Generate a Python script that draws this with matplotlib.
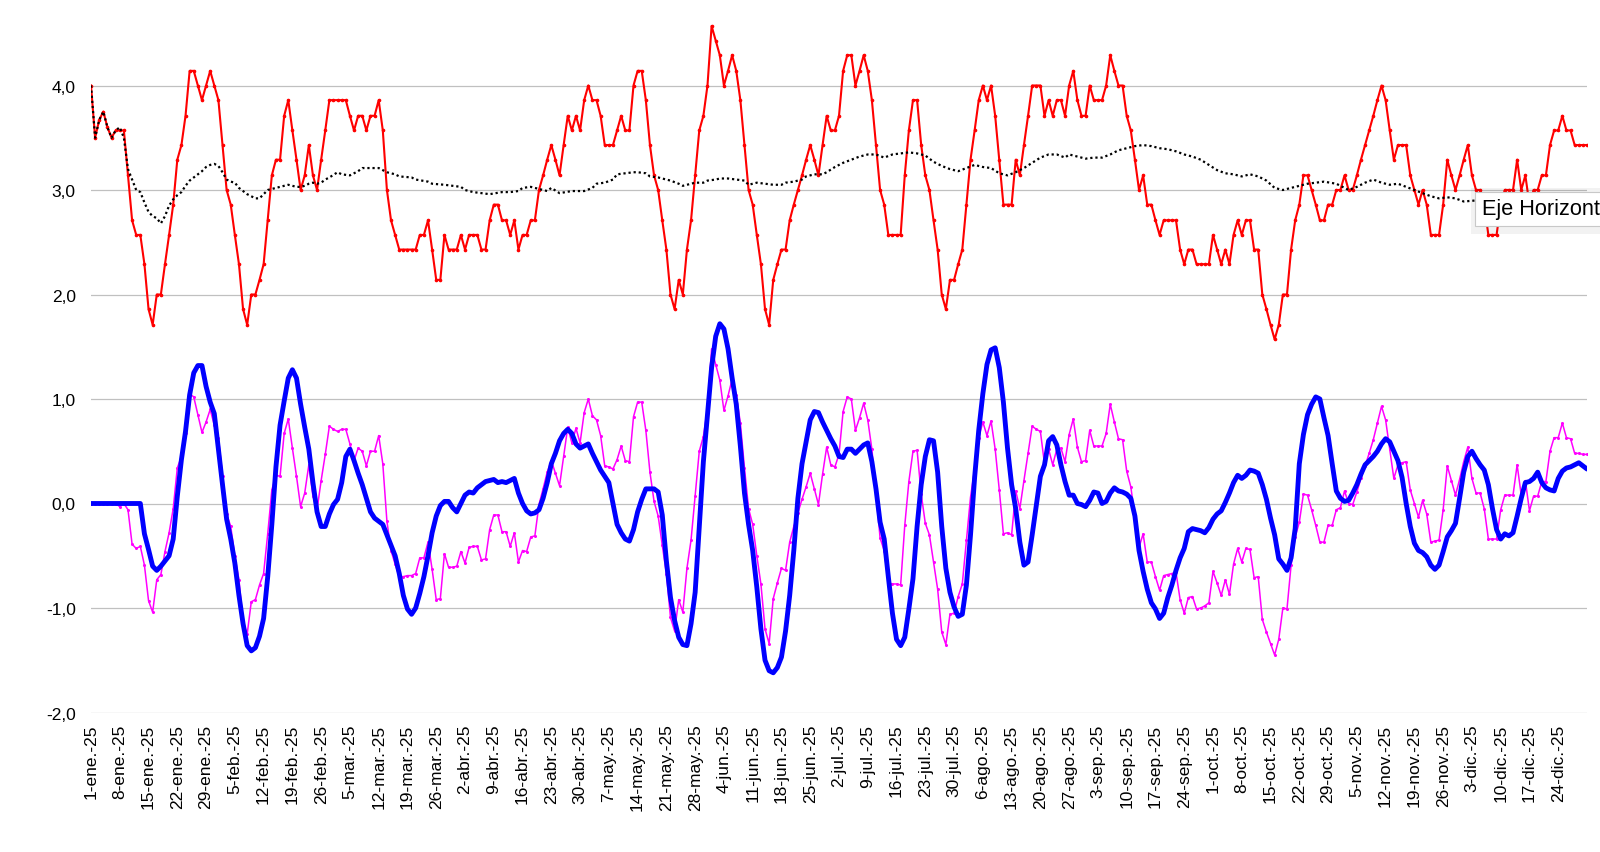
import numpy as np
import matplotlib
matplotlib.use("Agg")
import matplotlib.pyplot as plt
from matplotlib.patches import Rectangle

# Temperatura media movil (7 dias), serie roja, 1-ene a 31-dic-2025
tmed = [4.0, 3.5, 3.67, 3.75, 3.6, 3.5, 3.57, 3.57, 3.57, 3.14,
        2.71, 2.57, 2.57, 2.29, 1.86, 1.71, 2.0, 2.0, 2.29, 2.57,
        2.86, 3.29, 3.43, 3.71, 4.14, 4.14, 4.0, 3.86, 4.0, 4.14,
        4.0, 3.86, 3.43, 3.0, 2.86, 2.57, 2.29, 1.86, 1.71, 2.0,
        2.0, 2.14, 2.29, 2.71, 3.14, 3.29, 3.29, 3.71, 3.86, 3.57,
        3.29, 3.0, 3.14, 3.43, 3.14, 3.0, 3.29, 3.57,
        3.86, 3.86, 3.86, 3.86, 3.86, 3.71, 3.57, 3.71, 3.71, 3.57,
        3.71, 3.71, 3.86, 3.57, 3.0, 2.71, 2.57, 2.43, 2.43, 2.43,
        2.43, 2.43, 2.57, 2.57, 2.71, 2.43, 2.14, 2.14, 2.57, 2.43,
        2.43, 2.43, 2.57, 2.43, 2.57, 2.57, 2.57, 2.43, 2.43, 2.71,
        2.86, 2.86, 2.71, 2.71, 2.57, 2.71, 2.43, 2.57, 2.57, 2.71,
        2.71, 3.0, 3.14, 3.29, 3.43, 3.29, 3.14, 3.43, 3.71, 3.57,
        3.71,
        3.57, 3.86, 4.0, 3.86, 3.86, 3.71, 3.43, 3.43, 3.43, 3.57,
        3.71, 3.57, 3.57, 4.0, 4.14, 4.14, 3.86, 3.43, 3.14, 3.0,
        2.71, 2.43, 2.0, 1.86, 2.14, 2.0, 2.43, 2.71, 3.14, 3.57,
        3.71, 4.0, 4.57, 4.43, 4.29, 4.0, 4.14, 4.29, 4.14, 3.86,
        3.43, 3.0, 2.86, 2.57, 2.29, 1.86, 1.71, 2.14, 2.29, 2.43,
        2.43, 2.71, 2.86, 3.0, 3.14, 3.29, 3.43, 3.29, 3.14, 3.43,
        3.71, 3.57, 3.57, 3.71, 4.14, 4.29, 4.29, 4.0, 4.14, 4.29,
        4.14, 3.86, 3.43, 3.0, 2.86, 2.57, 2.57, 2.57, 2.57, 3.14,
        3.57, 3.86, 3.86, 3.43, 3.14, 3.0, 2.71, 2.43, 2.0, 1.86,
        2.14, 2.14, 2.29, 2.43, 2.86, 3.29, 3.57, 3.86, 4.0, 3.86,
        4.0, 3.71, 3.29, 2.86, 2.86, 2.86, 3.29, 3.14, 3.43, 3.71,
        4.0, 4.0, 4.0, 3.71, 3.86, 3.71, 3.86, 3.86, 3.71,
        4.0, 4.14, 3.86, 3.71, 3.71, 4.0, 3.86, 3.86, 3.86, 4.0,
        4.29, 4.14, 4.0, 4.0, 3.71, 3.57, 3.29, 3.0, 3.14, 2.86,
        2.86, 2.71, 2.57, 2.71, 2.71, 2.71, 2.71, 2.43, 2.29, 2.43,
        2.43, 2.29, 2.29, 2.29, 2.29, 2.57, 2.43, 2.29, 2.43, 2.29,
        2.57, 2.71, 2.57, 2.71, 2.71, 2.43, 2.43, 2.0, 1.86, 1.71,
        1.57, 1.71, 2.0, 2.0, 2.43, 2.71, 2.86, 3.14, 3.14,
        3.0, 2.86, 2.71, 2.71, 2.86, 2.86, 3.0, 3.0, 3.14, 3.0,
        3.0, 3.14, 3.29, 3.43, 3.57, 3.71, 3.86, 4.0, 3.86, 3.57,
        3.29, 3.43, 3.43, 3.43, 3.14, 3.0, 2.86, 3.0, 2.86, 2.57,
        2.57, 2.57, 2.86, 3.29, 3.14, 3.0, 3.14, 3.29, 3.43, 3.14,
        3.0,
        3.0, 2.86, 2.57, 2.57, 2.57, 2.86, 3.0, 3.0, 3.0, 3.29,
        3.0, 3.14, 2.86, 3.0, 3.0, 3.14, 3.14, 3.43, 3.57, 3.57,
        3.71,
        3.57, 3.57, 3.43, 3.43, 3.43, 3.43]

# Media de referencia (linea de puntos negra), dia del año y valor
media_dias = [0, 1, 2, 3, 4, 5, 6, 7, 8, 9, 10, 11, 12, 13, 14, 15, 16, 17, 18, 19,
              20, 21, 22, 23, 24, 25, 26, 27, 28, 29, 30, 31, 32, 33, 34, 35, 36, 37, 38, 39,
              40, 41, 42, 43, 44, 45, 46, 47, 48, 49, 50, 51, 52, 53, 54, 55, 56, 57, 58,
              60, 61, 63, 65, 66, 68, 70, 72, 74, 75, 78, 79, 82, 83, 86, 88, 90, 91, 93, 95,
              97, 100, 102, 104, 105, 107, 109, 111, 112, 114, 117, 119, 120, 122, 123, 125,
              127, 128, 130, 132, 133, 135, 136, 138, 140, 141, 143, 144, 145, 147, 149, 150,
              152, 153, 155, 157, 159, 160, 162, 164, 166, 168, 169, 171, 173, 174, 176, 178,
              179, 181, 183, 185, 187, 189, 191, 193, 195, 197, 199, 201, 203, 205, 207, 209,
              211, 213, 215, 217, 219, 221, 223, 225, 227, 229, 231, 233, 235, 237, 238, 240,
              242, 244, 246, 248, 250, 252, 254, 256, 258, 260, 262, 264, 266, 268, 270, 272,
              274, 276, 278, 280, 282, 284, 286, 288, 290, 292, 294, 296, 298, 300, 303, 304,
              306, 308, 310, 312, 314, 316, 318, 320, 322, 324, 326, 328, 330, 332, 334, 340,
              346, 352, 358, 364]
media_vals = [4.0, 3.5, 3.67, 3.75, 3.6, 3.5, 3.57, 3.6, 3.5, 3.2, 3.1, 3.0, 2.98, 2.88, 2.79,
              2.75, 2.73, 2.68, 2.75, 2.85, 2.91, 2.95, 2.98, 3.04, 3.09, 3.12, 3.15, 3.18,
              3.22, 3.24, 3.25, 3.23, 3.17, 3.1, 3.08, 3.07, 3.02, 2.99, 2.96, 2.94, 2.92,
              2.92, 2.96, 3.0, 3.01, 3.02, 3.03, 3.04, 3.05, 3.04, 3.03, 3.03, 3.04, 3.06,
              3.07, 3.06, 3.07, 3.1, 3.12,
              3.17, 3.15, 3.14, 3.18, 3.21, 3.21, 3.21, 3.17, 3.15, 3.13, 3.12, 3.10, 3.08,
              3.06, 3.05, 3.04, 3.03, 3.0, 2.98, 2.97, 2.96, 2.98, 2.98, 2.99, 3.02, 3.03,
              3.01, 2.99, 3.02, 2.97, 2.99, 2.99, 2.99, 3.02, 3.06, 3.07, 3.1, 3.15, 3.16,
              3.17, 3.17, 3.16, 3.13, 3.12, 3.10, 3.09, 3.06, 3.04, 3.05, 3.07, 3.07, 3.09,
              3.10, 3.11, 3.11, 3.10, 3.09, 3.05, 3.07, 3.06, 3.05, 3.05, 3.07, 3.08, 3.10,
              3.13, 3.15, 3.15,
              3.17, 3.22, 3.26, 3.29, 3.32, 3.34, 3.34, 3.31, 3.34, 3.35, 3.36, 3.35, 3.33,
              3.27, 3.23, 3.20, 3.18, 3.21, 3.24, 3.22, 3.21, 3.16, 3.14, 3.17, 3.21, 3.26,
              3.31, 3.34, 3.34, 3.31, 3.34, 3.32, 3.30, 3.31, 3.31, 3.34, 3.38, 3.40, 3.42,
              3.43, 3.42, 3.40, 3.39, 3.37, 3.34, 3.32, 3.29, 3.24, 3.19, 3.16, 3.15, 3.13,
              3.15, 3.13, 3.09, 3.02, 3.0, 3.02, 3.04, 3.06, 3.07, 3.08, 3.06, 3.04, 3.0,
              3.03, 3.07, 3.10, 3.07, 3.05, 3.06, 3.03, 3.0, 2.97, 2.94, 2.92, 2.93, 2.92,
              2.89, 2.91, 2.92, 2.93, 2.94, 2.96]

# Anomalia diaria (magenta)
anomalia = [0.0, 0.0, 0.0, 0.0, 0.0, 0.0, 0.0, -0.03, 0.0, -0.06,
            -0.39, -0.43, -0.41, -0.59, -0.93, -1.04, -0.73, -0.68, -0.46, -0.28,
            -0.05, 0.34, 0.45, 0.67, 1.05, 1.02, 0.85, 0.68, 0.78, 0.90,
            0.75, 0.63, 0.26, -0.10, -0.22, -0.50, -0.73, -1.13, -1.25, -0.94,
            -0.92, -0.78, -0.67, -0.29, 0.13, 0.27, 0.26, 0.67, 0.81, 0.53,
            0.26, -0.03, 0.10, 0.37, 0.07, -0.06, 0.22, 0.47, 0.74, 0.71,
            0.69, 0.71, 0.71, 0.57, 0.41, 0.53, 0.50, 0.36, 0.50, 0.50,
            0.65, 0.38, -0.17, -0.45, -0.58, -0.70, -0.70, -0.69, -0.69, -0.67,
            -0.52, -0.52, -0.37, -0.63, -0.92, -0.91, -0.48, -0.61, -0.61, -0.60,
            -0.46, -0.57, -0.42, -0.41, -0.41, -0.54, -0.53, -0.25, -0.11, -0.11,
            -0.27, -0.27, -0.41, -0.28, -0.56, -0.45, -0.46, -0.32, -0.31, -0.01,
            0.14, 0.30, 0.41, 0.29, 0.17, 0.45, 0.73, 0.58, 0.72, 0.58,
            0.87, 1.00, 0.84, 0.80, 0.65, 0.36, 0.35, 0.33, 0.42, 0.55,
            0.41, 0.40, 0.83, 0.97, 0.97, 0.70, 0.30, 0.02, -0.12, -0.40,
            -0.67, -1.09, -1.22, -0.92, -1.04, -0.62, -0.35, 0.07, 0.50, 0.64,
            0.91, 1.48, 1.33, 1.18, 0.89, 1.03, 1.19, 1.04, 0.77, 0.34,
            -0.05, -0.20, -0.50, -0.77, -1.20, -1.34, -0.91, -0.76, -0.62, -0.64,
            -0.37, -0.22, -0.09, 0.04, 0.16, 0.29, 0.14, -0.01, 0.28, 0.54,
            0.37, 0.35, 0.47, 0.88, 1.02, 1.00, 0.70, 0.82, 0.96, 0.80,
            0.52, 0.09, -0.33, -0.45, -0.76, -0.77, -0.77, -0.78, -0.21, 0.21,
            0.50, 0.51, 0.09, -0.19, -0.30, -0.56, -0.82, -1.23, -1.35, -1.06,
            -1.05, -0.89, -0.77, -0.35, 0.06, 0.33, 0.63, 0.78, 0.65, 0.79,
            0.52, 0.13, -0.29, -0.28, -0.30, 0.12, -0.05, 0.22, 0.48, 0.74,
            0.71, 0.69, 0.38, 0.52, 0.37, 0.52, 0.53, 0.40, 0.66, 0.81,
            0.54, 0.40, 0.41, 0.70, 0.55, 0.55, 0.55, 0.67, 0.95, 0.78,
            0.62, 0.61, 0.31, 0.16, -0.13, -0.42, -0.29, -0.56, -0.56, -0.70,
            -0.83, -0.69, -0.68, -0.67, -0.66, -0.92, -1.05, -0.90, -0.89, -1.01,
            -1.00, -0.98, -0.95, -0.65, -0.76, -0.88, -0.73, -0.87, -0.58, -0.43,
            -0.56, -0.43, -0.44, -0.71, -0.70, -1.11, -1.23, -1.34, -1.45, -1.30,
            -1.00, -1.01, -0.59, -0.32, -0.18, 0.09, 0.08, -0.06, -0.21, -0.37,
            -0.37, -0.21, -0.21, -0.06, -0.04, 0.12, 0.00, -0.01, 0.11, 0.24,
            0.36, 0.48, 0.61, 0.77, 0.93, 0.80, 0.52, 0.24, 0.37, 0.39,
            0.40, 0.13, 0.00, -0.13, 0.03, -0.10, -0.37, -0.36, -0.35, -0.06,
            0.36, 0.22, 0.08, 0.23, 0.40, 0.54, 0.24, 0.10, 0.10, -0.05,
            -0.34, -0.34, -0.34, -0.06, 0.08, 0.08, 0.08, 0.37, 0.08, 0.22,
            -0.07, 0.07, 0.07, 0.21, 0.21, 0.50, 0.63, 0.63, 0.77, 0.63,
            0.62, 0.48, 0.48, 0.47, 0.47]

# Anomalia suavizada (azul gruesa)
anomalia_suav = [0.0, 0.0, 0.0, 0.0, 0.0, 0.0, 0.0, 0.0, 0.0, 0.0,
                 0.0, 0.0, 0.0, -0.29, -0.44, -0.60, -0.64, -0.60, -0.55, -0.50,
                 -0.34, 0.07, 0.42, 0.69, 1.04, 1.25, 1.32, 1.32, 1.12, 0.97,
                 0.86, 0.52, 0.18, -0.15, -0.34, -0.57, -0.88, -1.15, -1.36, -1.41,
                 -1.38, -1.27, -1.10, -0.70, -0.20, 0.35, 0.75, 0.98, 1.20, 1.28,
                 1.20, 0.95, 0.73, 0.52, 0.20, -0.08, -0.22, -0.22, -0.10, -0.01,
                 0.04, 0.20, 0.45, 0.52, 0.41, 0.29, 0.18, 0.05, -0.08, -0.14,
                 -0.17, -0.20, -0.30, -0.40, -0.50, -0.67, -0.88, -1.01, -1.06, -1.00,
                 -0.86, -0.70, -0.50, -0.28, -0.12, -0.02, 0.02, 0.02, -0.04, -0.08,
                 0.00, 0.08, 0.11, 0.10, 0.15, 0.18, 0.21, 0.22, 0.23, 0.20,
                 0.21, 0.20, 0.22, 0.24, 0.10, 0.00, -0.07, -0.10, -0.09, -0.06,
                 0.05, 0.20, 0.38, 0.48, 0.60, 0.67, 0.71, 0.67, 0.57, 0.53,
                 0.55, 0.57, 0.48, 0.40, 0.32, 0.26, 0.20, 0.00, -0.20, -0.28,
                 -0.34, -0.36, -0.25, -0.08, 0.04, 0.14, 0.14, 0.14, 0.11, -0.11,
                 -0.55, -0.90, -1.12, -1.28, -1.35, -1.36, -1.15, -0.85, -0.22, 0.40,
                 0.85, 1.30, 1.60, 1.72, 1.67, 1.48, 1.20, 0.95, 0.55, 0.10,
                 -0.20, -0.45, -0.80, -1.20, -1.50, -1.60, -1.62, -1.57, -1.47, -1.22,
                 -0.88, -0.45, 0.05, 0.38, 0.59, 0.80, 0.88, 0.87, 0.78, 0.70,
                 0.62, 0.55, 0.45, 0.44, 0.52, 0.52, 0.48, 0.52, 0.56, 0.58,
                 0.40, 0.14, -0.18, -0.34, -0.70, -1.05, -1.30, -1.36, -1.28, -1.01,
                 -0.72, -0.22, 0.18, 0.45, 0.61, 0.60, 0.30, -0.22, -0.62, -0.85,
                 -0.99, -1.08, -1.06, -0.78, -0.30, 0.25, 0.70, 1.05, 1.33, 1.47,
                 1.49, 1.30, 0.97, 0.53, 0.18, -0.05, -0.37, -0.59, -0.56, -0.30,
                 -0.02, 0.26, 0.37, 0.60, 0.64, 0.56, 0.37, 0.21, 0.08, 0.08,
                 0.00, -0.01, -0.03, 0.03, 0.11, 0.10, 0.00, 0.02, 0.10, 0.15,
                 0.12, 0.11, 0.09, 0.05, -0.12, -0.45, -0.65, -0.82, -0.95, -1.01,
                 -1.10, -1.05, -0.90, -0.78, -0.64, -0.52, -0.43, -0.27, -0.24, -0.25,
                 -0.26, -0.28, -0.23, -0.15, -0.10, -0.07, 0.01, 0.10, 0.20, 0.27,
                 0.24, 0.27, 0.32, 0.31, 0.29, 0.18, 0.04, -0.14, -0.30, -0.53,
                 -0.58, -0.64, -0.52, -0.24, 0.38, 0.66, 0.85, 0.95, 1.02, 1.00,
                 0.82, 0.65, 0.38, 0.12, 0.05, 0.02, 0.03, 0.10, 0.18, 0.28,
                 0.37, 0.41, 0.45, 0.50, 0.57, 0.62, 0.59, 0.50, 0.41, 0.25,
                 0.00, -0.22, -0.38, -0.45, -0.47, -0.51, -0.59, -0.63, -0.59, -0.46,
                 -0.32, -0.26, -0.19, 0.05, 0.30, 0.45, 0.50, 0.43, 0.37, 0.32,
                 0.18, -0.05, -0.25, -0.34, -0.29, -0.31, -0.28, -0.12, 0.05, 0.20,
                 0.21, 0.24, 0.30, 0.20, 0.15, 0.13, 0.12, 0.24, 0.31, 0.34,
                 0.35, 0.37, 0.39, 0.36, 0.33]

etiquetas = ["1-ene.-25", "8-ene.-25", "15-ene.-25", "22-ene.-25", "29-ene.-25",
             "5-feb.-25", "12-feb.-25", "19-feb.-25", "26-feb.-25",
             "5-mar.-25", "12-mar.-25", "19-mar.-25", "26-mar.-25",
             "2-abr.-25", "9-abr.-25", "16-abr.-25", "23-abr.-25", "30-abr.-25",
             "7-may.-25", "14-may.-25", "21-may.-25", "28-may.-25",
             "4-jun.-25", "11-jun.-25", "18-jun.-25", "25-jun.-25",
             "2-jul.-25", "9-jul.-25", "16-jul.-25", "23-jul.-25", "30-jul.-25",
             "6-ago.-25", "13-ago.-25", "20-ago.-25", "27-ago.-25",
             "3-sep.-25", "10-sep.-25", "17-sep.-25", "24-sep.-25",
             "1-oct.-25", "8-oct.-25", "15-oct.-25", "22-oct.-25", "29-oct.-25",
             "5-nov.-25", "12-nov.-25", "19-nov.-25", "26-nov.-25",
             "3-dic.-25", "10-dic.-25", "17-dic.-25", "24-dic.-25"]

valores_y = [-2, -1, 0, 1, 2, 3, 4]
etiquetas_y = ["-2,0", "-1,0", "0,0", "1,0", "2,0", "3,0", "4,0"]

plt.rcParams['font.family'] = ['Liberation Sans', 'DejaVu Sans']

W, H = 1600, 853
fig = plt.figure(figsize=(W / 100, H / 100), dpi=100)
ax = fig.add_axes([91 / W, 1 - 713.5 / H, 1496 / W, 710.6 / H])

dias = np.arange(len(tmed))

ax.plot(dias, tmed, color='#ff0000', linewidth=1.5, marker='o', markersize=1.6,
        zorder=3, solid_joinstyle='round')
ax.plot(media_dias, media_vals, color='black', linewidth=1.6,
        linestyle=(0, (1, 1.3)), zorder=4)
ax.plot(dias, anomalia, color='#ff00ff', linewidth=1.1, marker='o', markersize=1.2,
        zorder=5, solid_joinstyle='round')
ax.plot(dias, anomalia_suav, color='#0000ff', linewidth=3.5, zorder=6,
        solid_joinstyle='round', solid_capstyle='round')

ax.set_xlim(0, len(tmed) - 1)
ax.set_ylim(-2, 4.8)
ax.set_yticks(valores_y)
ax.set_yticklabels(etiquetas_y)
ax.set_xticks(np.arange(0, len(tmed), 7)[:len(etiquetas)])
ax.set_xticklabels(etiquetas, rotation=90, ha='center', va='top')
ax.tick_params(axis='both', length=0, labelsize=12.5)
ax.tick_params(axis='y', pad=11)
ax.tick_params(axis='x', pad=8)

ax.grid(axis='y', color='#c0c0c0', linewidth=0.9)
ax.grid(axis='x', visible=False)
ax.set_axisbelow(True)
for s in ax.spines.values():
    s.set_visible(False)

# Recuadro emergente "Eje Horizontal" (captura original, cortado por el borde)
fig.add_artist(Rectangle((1471 / W, (H - 235) / H), 220 / W, 46 / H,
                         transform=fig.transFigure, facecolor='black',
                         alpha=0.05, edgecolor='none', zorder=10))
fig.add_artist(Rectangle((1475 / W, (H - 227) / H), 200 / W, 34 / H,
                         transform=fig.transFigure, facecolor='white',
                         edgecolor='#c8c8c8', linewidth=0.8, zorder=11))
fig.text(1482 / W, (H - 210) / H, 'Eje Horizontal', fontsize=15.6,
         ha='left', va='center', zorder=12)

fig.savefig('out.png', dpi=100)
